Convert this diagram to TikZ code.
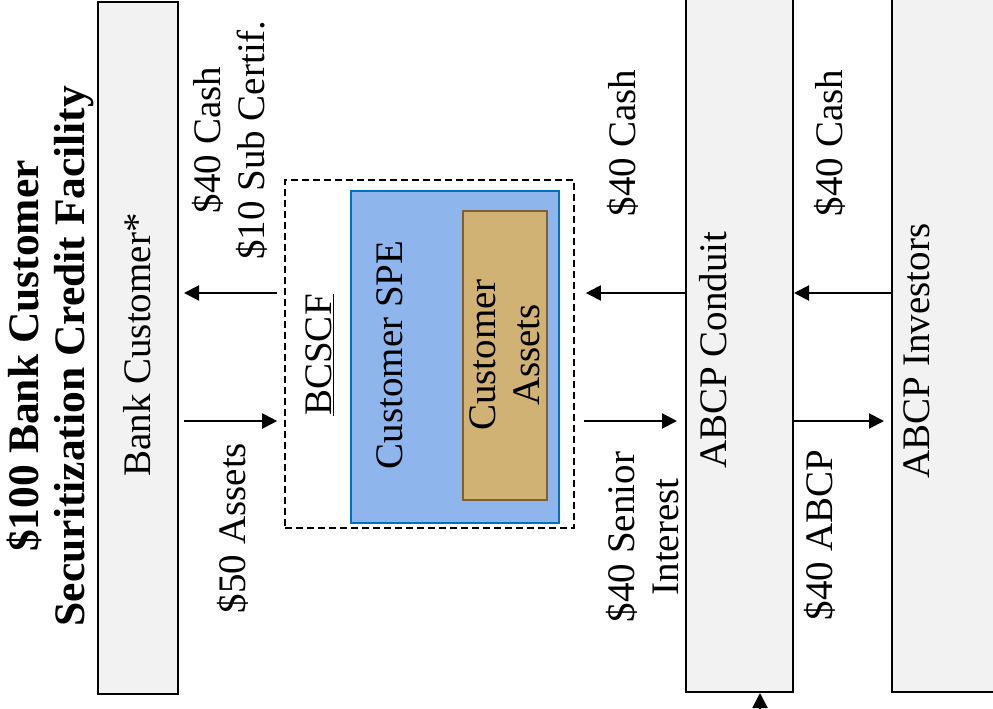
\documentclass[tikz,border=0pt]{standalone}
\usepackage{fontspec}
\setmainfont{Liberation Serif}
\usetikzlibrary{arrows.meta}
\definecolor{boxgrey}{HTML}{F2F2F2}
\definecolor{spefill}{RGB}{142,182,236}
\definecolor{spedraw}{RGB}{0,112,192}
\definecolor{tanfill}{RGB}{208,178,116}
\definecolor{tandraw}{RGB}{128,96,48}
\tikzset{
  entity/.style={draw=black, line width=2pt, fill=boxgrey, inner sep=0pt},
  lbl/.style={rotate=90, align=center, inner sep=0pt, font=\fontsize{39}{44}\selectfont},
  ttl/.style={rotate=90, align=center, inner sep=0pt, font=\bfseries\fontsize{43.5}{46}\selectfont},
  arr/.style={line width=2pt, -{Triangle[length=15pt,width=15pt]}}
}
\begin{document}
\begin{tikzpicture}[x=1pt,y=-1pt]
\useasboundingbox (0,0) rectangle (993,709);
% boxes
\node[entity, minimum width=80pt, minimum height=692pt] (bank) at (138,348) {};
\node[entity, minimum width=107pt, minimum height=712pt] (conduit) at (739.5,336) {};
\node[entity, minimum width=115pt, minimum height=712pt] (inv) at (949.5,336) {};
\node[draw=black, line width=1.6pt, dash pattern=on 7pt off 4pt, minimum width=289pt, minimum height=348pt, inner sep=0pt] (dash) at (429.5,354) {};
\node[draw=spedraw, fill=spefill, line width=2pt, minimum width=208pt, minimum height=332pt, inner sep=0pt] (spe) at (455,357) {};
\node[draw=tandraw, fill=tanfill, line width=1.5pt, minimum width=84pt, minimum height=289pt, inner sep=0pt] (assets) at (505,355.5) {};
% texts
\node[ttl] (title) at (50,356) {\$100 Bank Customer\\Securitization Credit Facility};
\node[lbl] (banklbl) at (137,345) {Bank Customer*};
\node[lbl] (l1) at (230,140) {\$40 Cash\\\$10 Sub Certif.};
\node[lbl] (l2) at (233,528) {\$50 Assets};
\node[lbl] (bcscf) at (320,355) {\underline{BCSCF}};
\node[lbl] (spelbl) at (390,355) {Customer SPE};
\node[lbl] (assetslbl) at (505,355) {Customer\\Assets};
\node[lbl] (l3) at (623,143) {\$40 Cash};
\node[lbl] (l4) at (643,537) {\$40 Senior\\Interest};
\node[lbl] (conduitlbl) at (713,350) {ABCP Conduit};
\node[lbl] (l5) at (830,143) {\$40 Cash};
\node[lbl] (l6) at (820,535) {\$40 ABCP};
\node[lbl] (invlbl) at (917,351) {ABCP Investors};
% arrows
\coordinate (ra) at (0,293);
\coordinate (rb) at (0,421);
\coordinate (bot) at (760,712);
\draw[arr, shorten <=7pt, shorten >=5pt] (dash.west |- ra) -- (bank.east |- ra);
\draw[arr, shorten <=5pt, shorten >=7pt] (bank.east |- rb) -- (dash.west |- rb);
\draw[arr, shorten >=11pt] (conduit.west |- ra) -- (dash.east |- ra);
\draw[arr, shorten <=9pt, shorten >=8pt] (dash.east |- rb) -- (conduit.west |- rb);
\draw[arr] (inv.west |- ra) -- (conduit.east |- ra);
\draw[arr, shorten >=7pt] (conduit.east |- rb) -- (inv.west |- rb);
\draw[arr] (bot) -- (conduit.south -| bot);
\end{tikzpicture}
\end{document}
